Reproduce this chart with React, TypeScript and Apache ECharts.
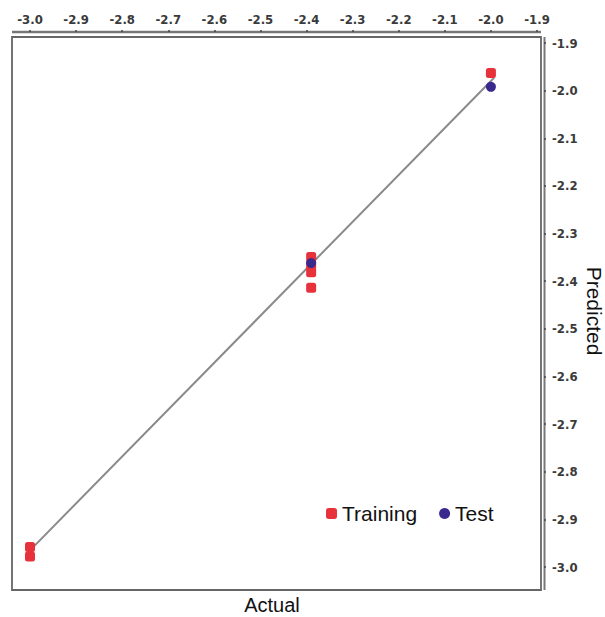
import React, { useEffect, useRef } from "react";
import * as echarts from "echarts";

const xTicks = { min: -3.0, max: -1.9, interval: 0.1 };
const yTicks = { min: -3.0, max: -1.9, interval: 0.1 };

const trainingData: [number, number][] = [
  [-3.0, -2.958],
  [-3.0, -2.978],
  [-2.39, -2.349],
  [-2.39, -2.366],
  [-2.39, -2.381],
  [-2.39, -2.414],
  [-2.0, -1.963],
];

const testData: [number, number][] = [
  [-2.39, -2.362],
  [-2.0, -1.992],
];

const fitLine: [number, number][] = [
  [-3.0, -2.965],
  [-1.993, -1.973],
];

const labelStyle = {
  fontFamily: "DejaVu Sans Condensed",
  fontSize: 13,
  fontWeight: "bold" as const,
  color: "#3a3a3a",
  formatter: (v: number) => v.toFixed(1),
};

export default function App() {
  const ref = useRef<HTMLDivElement>(null);
  useEffect(() => {
    if (!ref.current) return;
    const chart = echarts.init(ref.current, undefined, { renderer: "svg" });
    chart.setOption({
      animation: false,
      backgroundColor: "#fff",
      grid: { left: 30, right: 68, top: 43, bottom: 50 },
      xAxis: {
        type: "value",
        position: "top",
        offset: 11,
        min: xTicks.min,
        max: xTicks.max,
        interval: xTicks.interval,
        axisLine: { show: false },
        axisTick: { show: true, length: 2, lineStyle: { color: "#444", width: 1.5 } },
        axisLabel: { ...labelStyle, margin: 6 },
        splitLine: { show: false },
      },
      yAxis: {
        type: "value",
        position: "right",
        offset: 7,
        min: yTicks.min,
        max: yTicks.max,
        interval: yTicks.interval,
        axisLine: { show: false },
        axisTick: { show: true, length: 2, lineStyle: { color: "#444", width: 1.5 } },
        axisLabel: { ...labelStyle, margin: 8 },
        splitLine: { show: false },
      },
      legend: {
        left: 321,
        top: 498,
        itemWidth: 11,
        itemHeight: 11,
        itemGap: 22,
        textStyle: { fontFamily: "Liberation Sans", fontSize: 21, color: "#111" },
        data: [
          { name: "Training", icon: "roundRect" },
          { name: "Test", icon: "circle" },
        ],
      },
      graphic: [
        {
          type: "rect",
          shape: { x: 12, y: 37, width: 529, height: 553 },
          style: { fill: "none", stroke: "#666", lineWidth: 1.8 },
          silent: true,
        },
        {
          type: "line",
          shape: { x1: 12, y1: 32, x2: 541, y2: 32 },
          style: { stroke: "#777", lineWidth: 2.5 },
          silent: true,
        },
        {
          type: "line",
          shape: { x1: 544.5, y1: 37, x2: 544.5, y2: 590 },
          style: { stroke: "#777", lineWidth: 2 },
          silent: true,
        },
        {
          type: "text",
          x: 272,
          y: 605,
          style: {
            text: "Actual",
            fontFamily: "Liberation Sans",
            fontSize: 20,
            fill: "#111",
            align: "center",
            verticalAlign: "middle",
          },
        },
        {
          type: "text",
          x: 594,
          y: 311,
          rotation: -Math.PI / 2,
          style: {
            text: "Predicted",
            fontFamily: "Liberation Sans",
            fontSize: 21,
            fill: "#111",
            align: "center",
            verticalAlign: "middle",
          },
        },
      ],
      series: [
        {
          name: "Fit",
          type: "line",
          data: fitLine,
          symbol: "none",
          lineStyle: { color: "#8a8a8a", width: 2 },
          z: 1,
          silent: true,
        },
        {
          name: "Training",
          type: "scatter",
          data: trainingData,
          symbol: "roundRect",
          symbolSize: 10,
          itemStyle: { color: "#e8323b", opacity: 1 },
          z: 2,
        },
        {
          name: "Test",
          type: "scatter",
          data: testData,
          symbol: "circle",
          symbolSize: 10,
          itemStyle: { color: "#3b2a8e", opacity: 1 },
          z: 3,
        },
      ],
    });
    return () => chart.dispose();
  }, []);
  return (
    <div
      ref={ref}
      style={{ position: "fixed", left: 0, top: 0, width: 605, height: 617 }}
    />
  );
}
